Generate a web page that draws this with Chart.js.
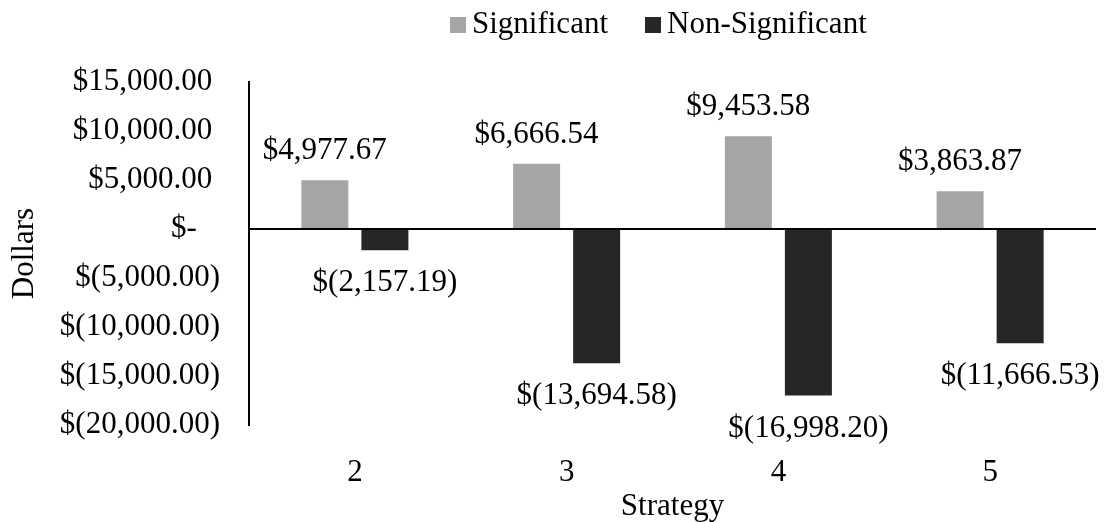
<!DOCTYPE html>
<html>
<head>
<meta charset="utf-8">
<script src="https://cdn.jsdelivr.net/npm/chart.js@4"></script>
<style>
  html, body { margin: 0; padding: 0; background: #fff; }
  #wrap { width: 1112px; height: 522px; position: relative; }
</style>
</head>
<body>
<div id="wrap"><canvas id="c" width="1112" height="522"></canvas></div>
<script>
// ---- data ----
const categories = ['2', '3', '4', '5'];
const seriesNames = ['Significant', 'Non-Significant'];
const significant = [4977.67, 6666.54, 9453.58, 3863.87];
const nonSignificant = [-2157.19, -13694.58, -16998.20, -11666.53];
const yMin = -20000, yMax = 15000, yStep = 5000;
const xTitle = 'Strategy';
const yTitle = 'Dollars';

// ---- style ----
const FONT = "'Liberation Serif', 'Times New Roman', serif";
const FS = 31;
const colors = ['#A5A5A5', '#262626'];

function fmtNum(v) {
  return Math.abs(v).toLocaleString('en-US', {minimumFractionDigits: 2, maximumFractionDigits: 2});
}
function fmtAcct(v) {
  if (v < 0) return '$(' + fmtNum(v) + ')';
  return '$' + fmtNum(v);
}
function fmtTick(v) {
  if (v === 0) return '$-   ';
  if (v < 0) return '$(' + fmtNum(v) + ')';
  return '$' + fmtNum(v) + ' ';
}

const labelPlugin = {
  id: 'valueLabels',
  afterDatasetsDraw(chart) {
    const ctx = chart.ctx;
    ctx.save();
    ctx.font = FS + 'px ' + FONT;
    ctx.fillStyle = '#000';
    ctx.textAlign = 'center';
    ctx.textBaseline = 'middle';
    chart.data.datasets.forEach((ds, di) => {
      const meta = chart.getDatasetMeta(di);
      meta.data.forEach((bar, i) => {
        const v = ds.data[i];
        const y = v >= 0 ? bar.y - 29 : bar.y + 33;
        ctx.fillText(fmtAcct(v), bar.x, y);
      });
    });
    ctx.restore();
  }
};

const legendPlugin = {
  id: 'customLegend',
  afterDraw(chart) {
    const ctx = chart.ctx;
    ctx.save();
    ctx.font = FS + 'px ' + FONT;
    ctx.textBaseline = 'middle';
    ctx.textAlign = 'left';
    const darkBoxX = 645, boxW = 16, boxH = 16, boxY = 17, gap = 6, textY = 24.5;
    const w0 = ctx.measureText(seriesNames[0]).width;
    const text0X = 608 - w0;
    const box0X = text0X - gap - boxW;
    ctx.fillStyle = colors[0];
    ctx.fillRect(box0X, boxY, boxW, boxH);
    ctx.fillStyle = '#000';
    ctx.fillText(seriesNames[0], text0X, textY);
    ctx.fillStyle = colors[1];
    ctx.fillRect(darkBoxX, boxY, boxW, boxH);
    ctx.fillStyle = '#000';
    ctx.fillText(seriesNames[1], darkBoxX + boxW + gap, textY);
    ctx.restore();
  }
};

new Chart(document.getElementById('c'), {
  type: 'bar',
  data: {
    labels: categories,
    datasets: [
      { label: seriesNames[0], data: significant, backgroundColor: colors[0],
        categoryPercentage: 0.567, barPercentage: 0.783 },
      { label: seriesNames[1], data: nonSignificant, backgroundColor: colors[1],
        categoryPercentage: 0.567, barPercentage: 0.783 }
    ]
  },
  options: {
    responsive: false,
    animation: false,
    devicePixelRatio: 1,
    layout: { padding: { top: 82, right: 16, bottom: 0, left: 0 } },
    plugins: {
      legend: { display: false },
      tooltip: { enabled: false }
    },
    scales: {
      x: {
        grid: { display: false },
        border: { display: false },
        ticks: { color: '#000', font: { family: FONT, size: FS }, padding: 21, maxRotation: 0 },
        title: { display: true, text: xTitle, color: '#000',
                 font: { family: FONT, size: FS, lineHeight: 1 }, padding: { top: 0, bottom: 0 } },
        afterFit(scale) { scale.height = 97; }
      },
      y: {
        min: yMin, max: yMax,
        grid: {
          drawTicks: false,
          lineWidth: 2,
          color: (c) => (c.tick && c.tick.value === 0) ? '#000' : 'rgba(0,0,0,0)'
        },
        border: { display: true, color: '#000', width: 2 },
        ticks: { stepSize: yStep, color: '#000', font: { family: FONT, size: FS }, padding: 29,
                 callback: (v) => fmtTick(v) },
        title: { display: true, text: yTitle, color: '#000',
                 font: { family: FONT, size: FS, lineHeight: 1 }, padding: { top: 9, bottom: 0 } },
        afterFit(scale) { scale.width = 249; }
      }
    }
  },
  plugins: [labelPlugin, legendPlugin]
});
</script>
</body>
</html>
